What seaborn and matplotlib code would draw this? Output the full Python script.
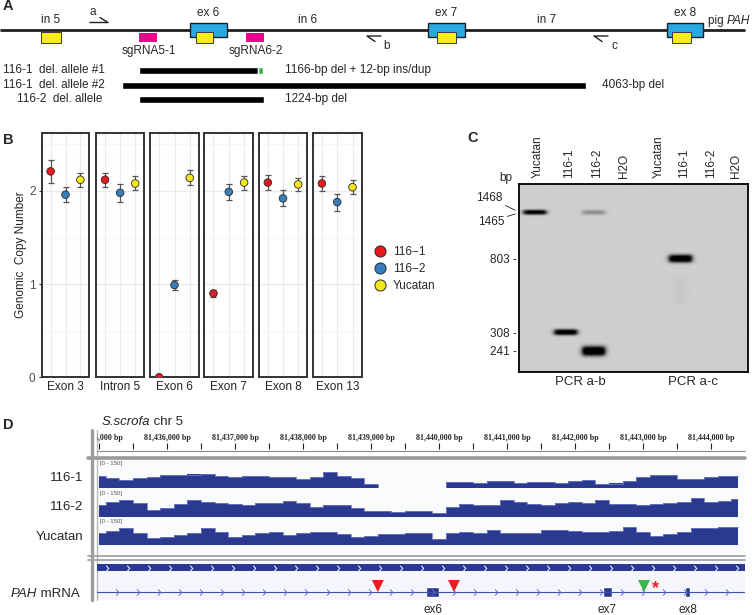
"""
Composite figure: pig PAH deletion alleles (A), genomic copy number by ddPCR (B),
PCR genotyping gel (C) and whole-genome coverage at the PAH locus (D).
"""

import numpy as np
import pandas as pd
import matplotlib
matplotlib.use("Agg")
import matplotlib.pyplot as plt
import seaborn as sns
from matplotlib.patches import Rectangle
from matplotlib.lines import Line2D
from matplotlib.path import Path

# ---------------- panel A : schematic (schematic units) ----------------
exon_labels = ["ex 6", "ex 7", "ex 8"]
exon_start = [190, 428, 667]
exon_end = [227, 465, 703]
intron_labels = ["in 5", "in 6", "in 7"]
intron_mid = [51, 308, 547]
amplicon_start = [41, 196, 437, 672]
amplicon_end = [61, 213, 456, 691]
sgrna_labels = ["sgRNA5-1", "sgRNA6-2"]
sgrna_start = [139, 246]
sgrna_end = [157, 264]
primer_labels = ["a", "b", "c"]
primer_tip = [108, 367, 594]
primer_dir = [1, -1, -1]
del_labels = ["116-1  del. allele #1", "116-1  del. allele #2", "116-2  del. allele"]
del_start = [139, 122, 139]
del_end = [258, 586, 264]
del_notes = ["1166-bp del + 12-bp ins/dup", "4063-bp del", "1224-bp del"]
ins_start = [258]
ins_end = [263]

# ---------------- panel B : genomic copy number ----------------
regions = ["Exon 3", "Intron 5", "Exon 6", "Exon 7", "Exon 8", "Exon 13"]
samples = ["116\u22121", "116\u22122", "Yucatan"]
cn_116_1 = [2.21, 2.12, 0.00, 0.90, 2.09, 2.08]
cn_116_2 = [1.96, 1.98, 0.99, 1.99, 1.92, 1.88]
cn_yucatan = [2.12, 2.08, 2.14, 2.09, 2.07, 2.04]
err_116_1 = [0.12, 0.075, 0.0, 0.04, 0.08, 0.08]
err_116_2 = [0.08, 0.095, 0.055, 0.085, 0.085, 0.09]
err_yucatan = [0.075, 0.075, 0.08, 0.075, 0.07, 0.075]

# ---------------- panel C : gel ----------------
lane_labels = ["Yucatan", "116-1", "116-2", "H2O", "Yucatan", "116-1", "116-2", "H2O"]
pcr_labels = ["PCR a-b", "PCR a-c"]
marker_bp = [803, 308, 241]
band_lane = [0, 2, 1, 2, 5]
band_bp = [1468, 1465, 308, 241, 803]
band_strength = [0.85, 0.25, 0.92, 1.0, 0.97]
band_thick = [5, 5, 6, 10, 8]
smear_lane = [5]
smear_top = [650]
smear_bottom = [430]
smear_strength = [0.025]

# ---------------- panel D : coverage (0-150 reads, 200-bp bins) ----------------
cov_first_bp = 81_435_000
cov_bin = 200
cov_116_1 = [64, 56, 44, 58, 61, 74, 71, 75, 77, 69, 61, 65, 65, 61, 59, 50,
             61, 89, 69, 53, 22, 0, 0, 0, 0, 0, 31, 31, 28, 37, 39, 28,
             31, 31, 28, 37, 46, 22, 25, 39, 61, 74, 71, 52, 50, 59, 65, 64]
cov_116_2 = [67, 81, 94, 78, 39, 50, 75, 92, 86, 78, 71, 65, 80, 80, 87, 78,
             56, 68, 67, 50, 32, 36, 28, 31, 36, 25, 58, 72, 65, 68, 93, 81,
             72, 68, 80, 83, 80, 94, 75, 71, 67, 72, 80, 83, 103, 83, 89, 100]
cov_yucatan = [67, 78, 92, 65, 39, 44, 53, 69, 92, 74, 46, 56, 65, 71, 56, 64,
               71, 71, 61, 42, 50, 61, 61, 64, 67, 33, 65, 71, 65, 83, 69, 65,
               69, 83, 83, 80, 75, 74, 78, 100, 72, 50, 61, 75, 92, 96, 100, 102]
track_labels = ["116-1", "116-2", "Yucatan"]
mrna_exon_labels = ["ex6", "ex7", "ex8"]
mrna_exon_start = [81_439_810, 81_442_410, 81_443_620]
mrna_exon_end = [81_440_000, 81_442_545, 81_443_690]
site_bp = [81_439_100, 81_440_220, 81_443_015]
site_colors = ["#ED1C24", "#ED1C24", "#3DB54A"]
star_bp = 81_443_190
view_start, view_end = 81_434_970, 81_444_500

W, H = 752, 615


def px_axes(fig, x0, y0, x1, y1):
    return fig.add_axes([x0 / W, 1 - y1 / H, (x1 - x0) / W, (y1 - y0) / H])


sns.set_theme(style="white")
plt.rcParams["font.family"] = ["Liberation Sans", "DejaVu Sans"]
fig = plt.figure(figsize=(W / 100, H / 100), dpi=100)

ov = fig.add_axes([0, 0, 1, 1])
ov.set_xlim(0, W)
ov.set_ylim(H, 0)
ov.axis("off")
for lab, x, y in [("A", 3, 6), ("B", 3, 140), ("C", 467, 138), ("D", 3, 425)]:
    ov.text(x, y, lab, fontsize=10.5, fontweight="bold", ha="left", va="center")

# ======================= A =======================
axA = px_axes(fig, 0, 0, W, 110)
axA.set_xlim(0, W)
axA.set_ylim(110, 0)
axA.axis("off")
axA.plot([0, 745], [30, 30], color="#231F20", lw=2, solid_capstyle="butt", zorder=1)
for lab, s, e in zip(exon_labels, exon_start, exon_end):
    axA.add_patch(Rectangle((s, 23), e - s, 14, fc="#27AAE1", ec="#231F20", lw=1, zorder=2))
    axA.text((s + e) / 2, 13, lab, ha="center", va="center", fontsize=8.5)
for s, e in zip(amplicon_start, amplicon_end):
    axA.add_patch(Rectangle((s, 32), e - s, 11, fc="#F7EC1B", ec="#3A3A3A", lw=0.7, zorder=3))
for lab, x in zip(intron_labels, intron_mid):
    axA.text(x, 20, lab, ha="center", va="center", fontsize=8.5)
for lab, s, e in zip(sgrna_labels, sgrna_start, sgrna_end):
    axA.add_patch(Rectangle((s, 33), e - s, 9, fc="#EC008C", ec="none", zorder=2))
    axA.text((s + e) / 2 + 0.5, 51, lab, ha="center", va="center", fontsize=8.5)
for lab, tip, d in zip(primer_labels, primer_tip, primer_dir):
    if d > 0:
        axA.plot([tip - 18, tip, tip - 8], [22.5, 22.5, 17.5], color="#231F20", lw=1)
        axA.text(tip - 15, 12, lab, ha="center", va="center", fontsize=8.5)
    else:
        axA.plot([tip + 14, tip, tip + 8], [36, 36, 41.5], color="#231F20", lw=1)
        axA.text(tip + 20, 46, lab, ha="center", va="center", fontsize=8.5)
rows = [70, 85, 99]
axA.barh(rows, np.subtract(del_end, del_start), left=del_start, height=7, color="black")
axA.barh(rows[:1], np.subtract(ins_end, ins_start), left=ins_start, height=7, color="#39B54A")
for lab, y, x in zip(del_labels, rows, [3, 3, 17]):
    axA.text(x, y, lab, ha="left", va="center", fontsize=8.5)
for note, y, x in zip(del_notes, rows, [285, 602, 285]):
    axA.text(x, y, note, ha="left", va="center", fontsize=8.5)
t = axA.text(708, 21, "pig ", ha="left", va="center", fontsize=8.5)
axA.annotate("PAH", xy=(1, 0.5), xycoords=t, ha="left", va="center", fontsize=8.5, style="italic")

# ======================= B =======================
palette = dict(zip(samples, ["#E41A1C", "#377EB8", "#F9E51C"]))
df = pd.DataFrame({
    "region": regions * 3,
    "sample": np.repeat(samples, len(regions)),
    "pos": np.repeat([1, 2, 3], len(regions)),
    "copy": cn_116_1 + cn_116_2 + cn_yucatan,
    "err": err_116_1 + err_116_2 + err_yucatan,
})
facet_px = [(41.7, 89.3), (96, 144.3), (150, 199), (204.3, 253.3), (258.7, 307.3), (312.7, 361.7)]
for i, (region, (x0, x1)) in enumerate(zip(regions, facet_px)):
    ax = px_axes(fig, x0, 132.7, x1, 377.3)
    sub = df[df["region"] == region]
    ax.errorbar(sub["pos"], sub["copy"], yerr=sub["err"], fmt="none", ecolor="#555555",
                elinewidth=0.9, capsize=2.2, capthick=0.9, zorder=3)
    sns.scatterplot(data=sub, x="pos", y="copy", hue="sample", hue_order=samples,
                    palette=palette, s=30, edgecolor="#2B2B2B", linewidth=0.6,
                    legend=False, zorder=4, ax=ax)
    ax.set_xlim(0.4, 3.6)
    ax.set_ylim(0, 2.625)
    ax.set_xticks([1, 2, 3])
    ax.set_xticklabels([])
    ax.set_yticks([0, 1, 2])
    ax.set_yticks([0.5, 1.5, 2.5], minor=True)
    ax.grid(which="major", color="#EBEBEB", lw=0.9)
    ax.grid(which="minor", axis="y", color="#F3F3F3", lw=0.5)
    ax.tick_params(axis="x", length=0)
    ax.tick_params(which="minor", length=0)
    if i == 0:
        ax.tick_params(axis="y", length=2.5, width=0.8, color="#333333", pad=2,
                       labelsize=8.5, labelcolor="#4D4D4D", left=True)
        ax.set_ylabel("Genomic  Copy Number", fontsize=8.5, labelpad=1)
    else:
        ax.set_yticklabels([])
        ax.tick_params(axis="y", length=0)
        ax.set_ylabel("")
    ax.set_xlabel("")
    ax.text(0.5, -0.04, region, transform=ax.transAxes, ha="center", va="center",
            fontsize=8.5, color="#222222")
    for sp in ax.spines.values():
        sp.set_color("#333333")
        sp.set_linewidth(1.4)
    ax.set_axisbelow(True)

handles = [Line2D([], [], ls="none", marker="o", ms=8, mfc=palette[s], mec="#2B2B2B", mew=0.7)
           for s in samples]
fig.legend(handles, samples, loc="center left", bbox_to_anchor=(374 / W, 1 - 269 / H),
           frameon=False, fontsize=8.5, handlelength=1.0, handletextpad=0.6,
           borderaxespad=0, borderpad=0, labelspacing=0.45)

# ======================= C =======================
axC = px_axes(fig, 519.3, 184, 748.3, 371.7)
gel_w = 229
lane_x = [15.7, 46.7, 74.7, 101.7, 136.7, 161.7, 188.7, 213.7]
decade_px = 177
ylo, yhi = np.log10(184), np.log10(2113)
gx, gy = np.meshgrid(np.linspace(0, gel_w, 460), np.linspace(ylo, yhi, 380))
gel = np.full_like(gx, 0.81)
for lane, bp, st, th in zip(band_lane, band_bp, band_strength, band_thick):
    cx = lane_x[lane]
    prof_x = 1 / (1 + np.exp(-(gx - (cx - 11.5)) / 1.4)) / (1 + np.exp((gx - (cx + 11.5)) / 1.4))
    prof_y = np.exp(-np.abs((gy - np.log10(bp)) * decade_px / (th / 2)) ** 2.6)
    gel -= 1.0 * st * prof_x * prof_y
for lane, top, bot, st in zip(smear_lane, smear_top, smear_bottom, smear_strength):
    cx = lane_x[lane]
    prof_x = np.exp(-((gx - cx) / 8) ** 2)
    mid = (np.log10(top) + np.log10(bot)) / 2
    half = (np.log10(top) - np.log10(bot)) / 2
    prof_y = np.exp(-((gy - mid) / half) ** 4)
    gel -= st * prof_x * prof_y
axC.imshow(np.clip(gel, 0, 1), cmap="gray", vmin=0, vmax=1, origin="lower",
           extent=[0, gel_w, ylo, yhi], aspect="auto", interpolation="bilinear")
axC.set_xlim(0, gel_w)
axC.set_ylim(ylo, yhi)
axC.set_xticks([])
axC.set_yticks(np.log10(marker_bp))
axC.set_yticklabels([f"{b} -" for b in marker_bp], fontsize=8.5)
axC.tick_params(axis="y", length=0, pad=1.5)
for sp in axC.spines.values():
    sp.set_color("black")
    sp.set_linewidth(1.3)
for x, lab in zip(lane_x, lane_labels):
    axC.text(x + 3, 1.03, lab, transform=axC.get_xaxis_transform(), rotation=90,
             ha="center", va="bottom", fontsize=8.5)
for x, lab in zip([60.7, 173.7], pcr_labels):
    axC.text(x, -0.055, lab, transform=axC.get_xaxis_transform(), ha="center",
             va="center", fontsize=9.5)
axC.text(-0.058, 1.032, "bp", transform=axC.transAxes, ha="center", va="center", fontsize=8.5)
axC.annotate("1468", xy=(-4, np.log10(1468) + 0.01), xytext=(-9.5, 9), textcoords="offset points",
             ha="right", va="center", fontsize=8.5, annotation_clip=False,
             arrowprops=dict(arrowstyle="-", lw=0.6, color="#222222", shrinkA=0, shrinkB=0))
axC.annotate("1465", xy=(-4, np.log10(1465) - 0.01), xytext=(-8, -5.5), textcoords="offset points",
             ha="right", va="center", fontsize=8.5, annotation_clip=False,
             arrowprops=dict(arrowstyle="-", lw=0.6, color="#222222", shrinkA=0, shrinkB=0))

# ======================= D =======================
ov.add_patch(Rectangle((97, 459), 648, 96, fc="#FAFBFD", ec="none"))
ov.add_patch(Rectangle((97, 560), 648, 40, fc="#F4F6FB", ec="none"))
ov.plot([91.5, 91.5], [430, 600], color="#9C9C9C", lw=2.4)
ov.plot([97, 97], [430, 600], color="#B8B8B8", lw=1)
ov.plot([97, 745], [451, 451], color="#8C8C8C", lw=0.8)
ov.plot([88, 745], [458, 458], color="#9A9A9A", lw=2.6)
ov.plot([88, 745], [556, 556], color="#A2A2A2", lw=1.3)
ov.plot([88, 745], [559.5, 559.5], color="#A2A2A2", lw=1.3)
t = ov.text(102, 422, "S.scrofa", ha="left", va="center", fontsize=9.5, style="italic")
ov.annotate(" chr 5", xy=(1, 0.5), xycoords=t, ha="left", va="center", fontsize=9.5)
for lab, y in zip(track_labels, [478, 507, 537]):
    ov.text(83, y, lab, ha="right", va="center", fontsize=9.5)
t = ov.text(80, 594, " mRNA", ha="right", va="center", fontsize=9.5)
ov.annotate("PAH", xy=(0, 0.5), xycoords=t, ha="right", va="center", fontsize=9.5, style="italic")

# ruler
axR = px_axes(fig, 97, 430, 745, 451)
axR.set_xlim(view_start, view_end)
axR.set_ylim(451, 430)
axR.axis("off")
axR.vlines(np.arange(cov_first_bp, view_end, 500), 443, 449, color="#222222", lw=0.8)
for b in range(cov_first_bp, view_end, 1000):
    axR.text(b, 437.5, f"{b:,} bp", ha="center", va="center", fontsize=5.8,
             fontweight="bold", family="Liberation Serif", clip_on=True)

# coverage tracks
cov_pos = cov_first_bp + cov_bin * np.arange(len(cov_116_1))
for vals, base in zip([cov_116_1, cov_116_2, cov_yucatan], [488, 517, 545]):
    ax = px_axes(fig, 97, base - 27, 745, base)
    ax.fill_between(cov_pos, vals, step="mid", color="#2B3990", lw=0)
    ax.step(cov_pos, vals, where="mid", color="#6F7BC4", lw=0.6)
    ax.set_xlim(view_start, view_end)
    ax.set_ylim(0, 150)
    ax.axis("off")
    ov.text(100, base - 24, "[0 - 150]", ha="left", va="center", fontsize=4.3, color="#555555")

# gene track
axG = px_axes(fig, 97, 561, 745, 600)
axG.set_xlim(view_start, view_end)
axG.set_ylim(600, 561)
axG.axis("off")
chev = Path([(-0.45, 1), (0.45, 0), (-0.45, -1)], [Path.MOVETO, Path.LINETO, Path.LINETO])
axG.fill_between([view_start, view_end], 564, 571, color="#2B3990", lw=0)
gene_chev = np.arange(view_start + 140, view_end, 309)
axG.plot(gene_chev, np.full(len(gene_chev), 567.5), ls="none", marker=chev, ms=4,
         mec="white", mfc="none", mew=0.7)
axG.plot([view_start, view_end], [592, 592], color="#3E4FB0", lw=0.8)
mrna_chev = np.arange(view_start + 300, view_end, 309)
axG.plot(mrna_chev, np.full(len(mrna_chev), 592), ls="none", marker=chev, ms=4.5,
         mec="#6070C8", mfc="none", mew=0.7)
axG.barh([592] * 3, np.subtract(mrna_exon_end, mrna_exon_start), left=mrna_exon_start,
         height=10, color="#2B3990")
for lab, s, e in zip(mrna_exon_labels, mrna_exon_start, mrna_exon_end):
    axG.text((s + e) / 2, 610, lab, ha="center", va="center", fontsize=8.5, clip_on=False)
axG.scatter(site_bp, [586] * len(site_bp), marker="v", s=75, c=site_colors, edgecolors="none", zorder=5)
axG.text(star_bp, 589, "*", ha="center", va="center", fontsize=13, color="#ED1C24", fontweight="bold")

fig.savefig("out.png", dpi=100)
